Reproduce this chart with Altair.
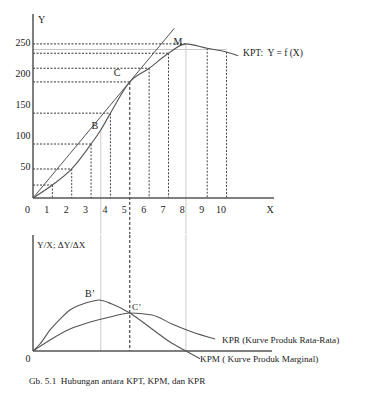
import altair as alt
import pandas as pd

# ---------------- data ----------------
x_tick_labels = list(range(0, 11))
y_tick_values = [50, 100, 150, 200, 250]

# total product curve KPT: Y = f(X)
kpt_x = [0, 1, 2, 3, 3.5, 4, 5, 6, 7, 7.9, 9, 10, 10.6]
kpt_y = [0, 20.8, 46.5, 86.5, 109, 136, 186, 208, 232, 247, 240, 234, 228]

# ray from the origin tangent at C
ray_x = [0, 7.3]
ray_y = [0, 272]

# guide points on KPT (X, Y)
guide_x = [1, 2, 3, 4, 5, 6, 7, 7.9, 9, 10]
guide_y = [20.8, 46.5, 86.5, 136, 186, 208, 232, 247, 240, 234]
grey_level_y = 238          # light grey level line up to X = 10

# special verticals: B (inflection), C (tangent), M (maximum)
special_x = [3.5, 5, 7.9]
special_y = [109, 186, 247]

# marginal product KPM and average product KPR
kpm_x = [0, 0.36, 0.88, 1.4, 1.91, 2.43, 3.1, 3.4, 4.08, 5.0, 6.15, 7.18, 7.9, 8.63]
kpm_y = [0, 6.8, 20.4, 31, 39.8, 44.6, 48.5, 49.5, 45.6, 36.9, 21.3, 7.5, 0, -7.5]
kpr_x = [0, 0.88, 1.91, 2.95, 3.98, 5.0, 6.15, 7.18, 8.22, 9.41]
kpr_y = [0, 10.7, 21.3, 28.1, 33, 36.9, 34.9, 26.2, 18.4, 11.6]

# ---------------- scales ----------------
X_MAX_TOP, X_MAX_BOT = 12.45, 12.35
YT_MIN, YT_MAX = -57.7, 294.9
YB_MIN, YB_MAX = 0, 112.5

FONT = "Liberation Serif, Times New Roman, DejaVu Serif, serif"
INK = "#222222"
LINE = "#555555"

xs = alt.Scale(domain=[0, X_MAX_TOP], nice=False, zero=False)
yts = alt.Scale(domain=[YT_MIN, YT_MAX], nice=False, zero=False)
ybs = alt.Scale(domain=[YB_MIN, YB_MAX], nice=False, zero=False)

y_axis_top = alt.Axis(values=y_tick_values, domain=False, ticks=False, grid=False,
                      labelFont=FONT, labelFontSize=10, labelColor=INK,
                      labelPadding=3, title=None)


def X(field="x"):
    return alt.X(f"{field}:Q", scale=xs, axis=None)


def YT(field="y"):
    return alt.Y(f"{field}:Q", scale=yts, axis=y_axis_top)


def YB(field="y"):
    return alt.Y(f"{field}:Q", scale=ybs, axis=None)


# ---------------- top panel ----------------
kpt_df = pd.DataFrame({"x": kpt_x, "y": kpt_y})
ray_df = pd.DataFrame({"x": ray_x, "y": ray_y})

top_axes = pd.DataFrame({
    "x": [0, 0], "x2": [0, X_MAX_TOP], "y": [0, 0], "y2": [YT_MAX, 0]})

# horizontal dotted levels from the Y axis to the curve (up to M)
h_df = pd.DataFrame({"x": [0] * 8, "x2": guide_x[:8], "y": guide_y[:8]})
h_grey = pd.DataFrame({"x": [0], "x2": [10], "y": [grey_level_y]})

# short verticals from the curve to the X axis
v_idx = [0, 1, 2, 3, 5, 6, 8, 9]
v_df = pd.DataFrame({"x": [guide_x[i] for i in v_idx],
                     "y": [guide_y[i] for i in v_idx],
                     "y2": [0] * len(v_idx)})

sp_grey_top = pd.DataFrame({"x": [special_x[0], special_x[2]],
                            "y": [special_y[0], special_y[2]],
                            "y2": [YT_MIN, YT_MIN]})
sp_dash_top = pd.DataFrame({"x": [special_x[1]], "y": [special_y[1]], "y2": [YT_MIN]})

top_center_txt = pd.DataFrame({
    "x": [0.45, 7.49, 4.34, 3.2, 12.25],
    "y": [286, 250, 200, 115, -19.2],
    "t": ["Y", "M", "C", "B", "X"]})
top_left_txt = pd.DataFrame({"x": [10.85], "y": [233], "t": ["KPT:\u00a0 Y = f (X)"]})
tick_txt = pd.DataFrame({"x": x_tick_labels, "y": [-19.2] * len(x_tick_labels),
                         "t": [str(v) for v in x_tick_labels]})

top = alt.layer(
    alt.Chart(h_df).mark_rule(color="#333333", strokeWidth=1, strokeDash=[2, 1.5]).encode(
        x=X(), x2="x2:Q", y=YT()),
    alt.Chart(h_grey).mark_rule(color="#c8c8c8", strokeWidth=1.2).encode(
        x=X(), x2="x2:Q", y=YT()),
    alt.Chart(v_df).mark_rule(color="#444444", strokeWidth=1, strokeDash=[2, 1.5]).encode(
        x=X(), y=YT(), y2="y2:Q"),
    alt.Chart(sp_grey_top).mark_rule(color="#cccccc", strokeWidth=1).encode(
        x=X(), y=YT(), y2="y2:Q"),
    alt.Chart(sp_dash_top).mark_rule(color="#222222", strokeWidth=1, strokeDash=[3, 2]).encode(
        x=X(), y=YT(), y2="y2:Q"),
    alt.Chart(top_axes).mark_rule(color="#555555", strokeWidth=1.5).encode(
        x=X(), x2="x2:Q", y=YT(), y2="y2:Q"),
    alt.Chart(ray_df).mark_line(color=LINE, strokeWidth=1).encode(x=X(), y=YT()),
    alt.Chart(kpt_df).mark_line(color=LINE, strokeWidth=1.1, interpolate="monotone").encode(
        x=X(), y=YT()),
    alt.Chart(top_center_txt).mark_text(font=FONT, fontSize=10, color=INK, align="center",
                                        baseline="middle").encode(x=X(), y=YT(), text="t:N"),
    alt.Chart(top_left_txt).mark_text(font=FONT, fontSize=9.5, color=INK, align="left",
                                      baseline="middle").encode(x=X(), y=YT(), text="t:N"),
    alt.Chart(tick_txt).mark_text(font=FONT, fontSize=10, color=INK, align="center",
                                  baseline="middle", dx=-5.5).encode(x=X(), y=YT(), text="t:N"),
).properties(width=241, height=220)

# ---------------- bottom panel ----------------
kpm_df = pd.DataFrame({"x": kpm_x, "y": kpm_y})
kpr_df = pd.DataFrame({"x": kpr_x, "y": kpr_y})
bot_axes = pd.DataFrame({
    "x": [0, 0], "x2": [0, X_MAX_BOT], "y": [0, 0], "y2": [YB_MAX, 0]})
sp_grey_bot = pd.DataFrame({"x": [special_x[0], special_x[2]], "y": [YB_MAX, YB_MAX],
                            "y2": [0, 0]})
sp_dash_bot = pd.DataFrame({"x": [special_x[1]], "y": [YB_MAX], "y2": [0]})

bot_center_txt = pd.DataFrame({"x": [2.95, -0.26], "y": [55.3, -7.8], "t": ["B\u2019", "0"]})
bot_left_txt = pd.DataFrame({
    "x": [5.12, 9.77, 8.63, 0.21],
    "y": [42.7, 10.7, -7.8, 102.8],
    "t": ["C\u2019", "KPR (Kurve Produk Rata-Rata)", "KPM ( Kurve Produk Marginal)",
          "Y/X; \u0394Y/\u0394X"]})
caption_txt = pd.DataFrame({"x": [-0.21], "y": [-29.1],
                            "t": ["Gb. 5.1\u00a0 Hubungan antara KPT, KPM, dan KPR"]})

bottom = alt.layer(
    alt.Chart(sp_grey_bot).mark_rule(color="#cccccc", strokeWidth=1).encode(
        x=X(), y=YB(), y2="y2:Q"),
    alt.Chart(sp_dash_bot).mark_rule(color="#222222", strokeWidth=1, strokeDash=[3, 2]).encode(
        x=X(), y=YB(), y2="y2:Q"),
    alt.Chart(bot_axes).mark_rule(color="#555555", strokeWidth=1.5).encode(
        x=X(), x2="x2:Q", y=YB(), y2="y2:Q"),
    alt.Chart(kpm_df).mark_line(color=LINE, strokeWidth=1.1, interpolate="monotone").encode(
        x=X(), y=YB()),
    alt.Chart(kpr_df).mark_line(color=LINE, strokeWidth=1.1, interpolate="monotone").encode(
        x=X(), y=YB()),
    alt.Chart(bot_center_txt).mark_text(font=FONT, fontSize=10, color=INK, align="center",
                                        baseline="middle").encode(x=X(), y=YB(), text="t:N"),
    alt.Chart(bot_left_txt).mark_text(font=FONT, fontSize=9.2, color=INK, align="left",
                                      baseline="middle").encode(x=X(), y=YB(), text="t:N"),
    alt.Chart(caption_txt).mark_text(font=FONT, fontSize=9.2, color=INK, align="left",
                                     baseline="middle").encode(x=X(), y=YB(), text="t:N"),
).properties(width=241, height=116)

chart = alt.vconcat(top, bottom, spacing=-3).properties(
    padding={"left": 7, "top": 5, "right": 5, "bottom": 5},
    background="white",
).configure_view(stroke=None)

chart.save("out.html", embed_options={"renderer": "svg", "actions": False})
